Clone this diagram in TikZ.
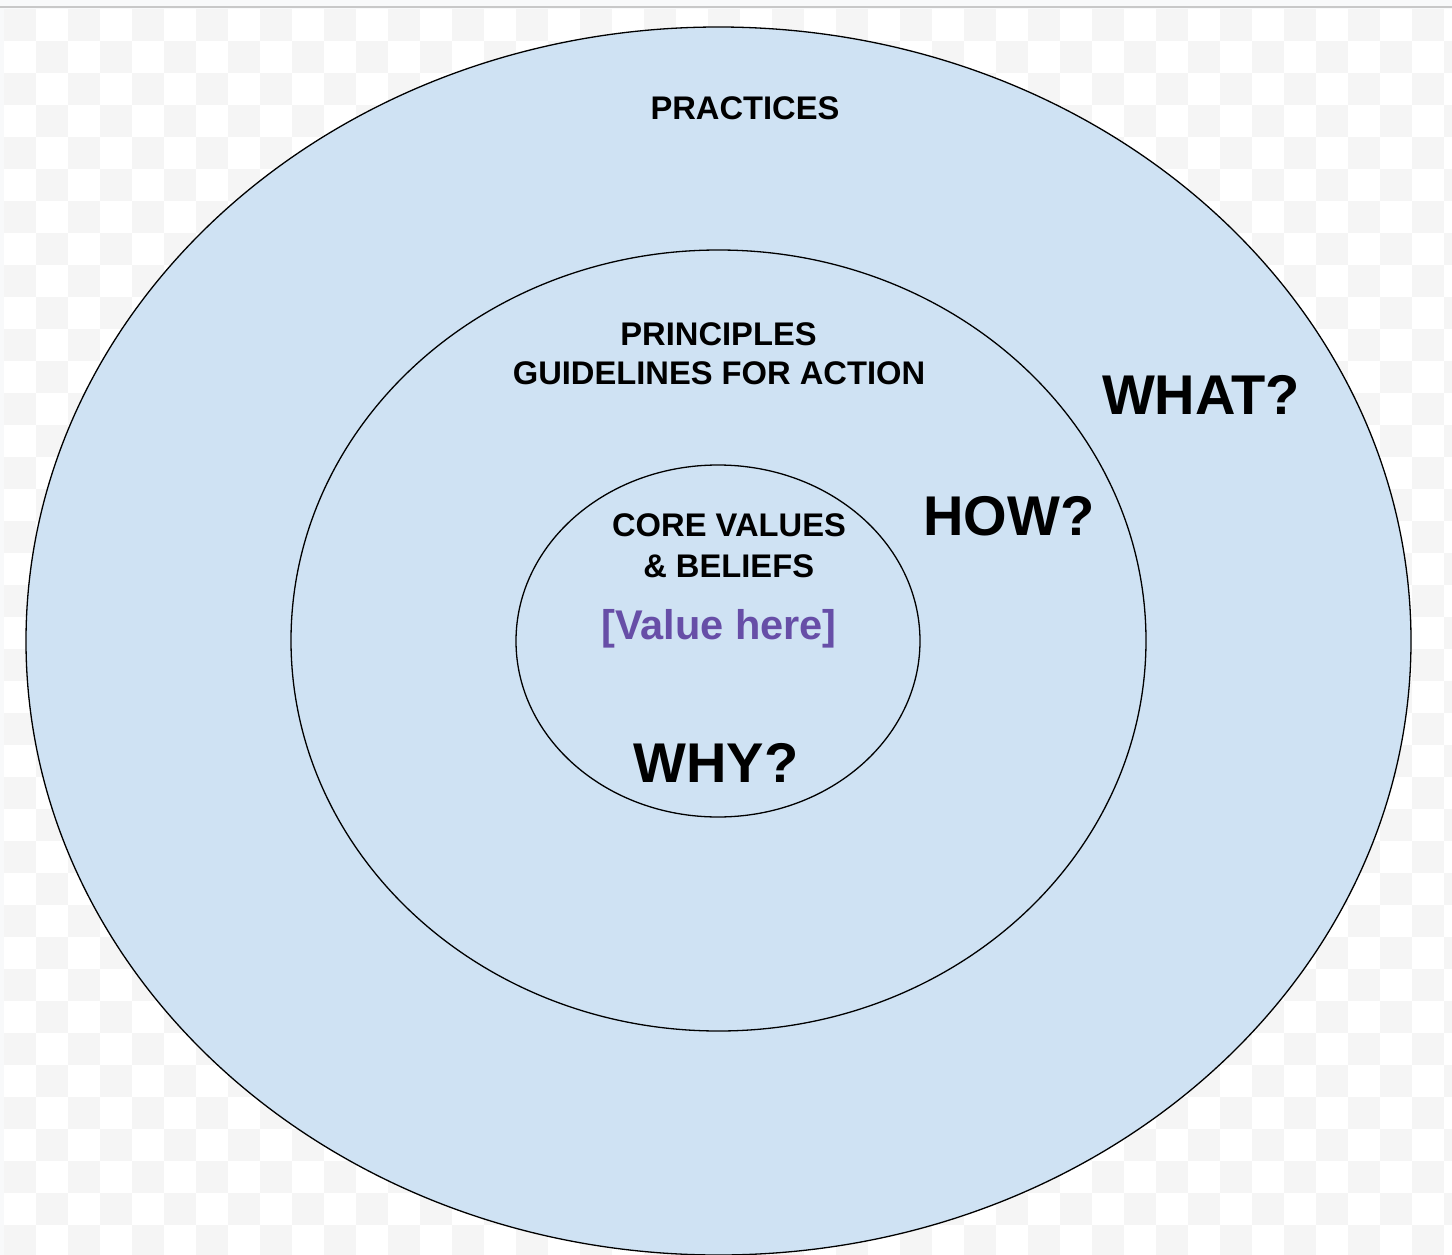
\documentclass[tikz,border=0pt]{standalone}
\usepackage{fontspec}
\setmainfont{Liberation Sans}
\definecolor{ringblue}{HTML}{CFE2F3}
\definecolor{valpurple}{HTML}{674EA7}
\definecolor{checkgray}{HTML}{F5F5F5}
\definecolor{topgray}{HTML}{F8F9FA}
\definecolor{linegray}{HTML}{C8C8C8}
\tikzset{
  ring/.style={draw=black, line width=1.3pt, fill=ringblue},
  lbl/.style={anchor=base, inner sep=0pt, font=\bfseries\fontsize{32.7}{38}\selectfont, text=black, align=center},
  big/.style={anchor=base, inner sep=0pt, font=\bfseries\fontsize{56}{62}\selectfont, text=black},
  val/.style={anchor=base, inner sep=0pt, font=\bfseries\fontsize{41.5}{48}\selectfont, text=valpurple}
}
\begin{document}
\begin{tikzpicture}[x=1pt,y=-1pt]
\useasboundingbox (0,0) rectangle (1452,1255);
% background
\fill[topgray] (0,0) rectangle (1452,1255);
\fill[white] (4,9) rectangle (1452,1255);
\begin{scope}
\clip (4,9) rectangle (1452,1255);
\foreach \i in {0,2,...,44}{
  \foreach \j in {0,2,...,38}{
    \fill[checkgray] ({4+32*\i},{9+32*\j}) rectangle ++(32,32);
  }
}
\foreach \i in {1,3,...,45}{
  \foreach \j in {1,3,...,37}{
    \fill[checkgray] ({4+32*\i},{9+32*\j}) rectangle ++(32,32);
  }
}
\end{scope}
\draw[linegray, line width=2pt] (0,7.5) -- (1452,7.5);
% rings
\draw[ring] (718.5,641) ellipse [x radius=692.5, y radius=614];
\draw[ring] (718.5,640.5) ellipse [x radius=427.5, y radius=390.5];
\draw[ring] (718,641) ellipse [x radius=202, y radius=176];
% labels
\node[lbl] (practices) at (745,119) {PRACTICES};
\node[lbl] (principles) at (718.5,345) {PRINCIPLES};
\node[lbl] (guidelines) at (719,384) {GUIDELINES FOR ACTION};
\node[lbl] (core) at (729,536) {CORE VALUES};
\node[lbl] (beliefs) at (728.7,577) {\& BELIEFS};
\node[val] (value) at (719,639.3) {[Value here]};
\node[big] (what) at (1201,414) {WHAT?};
\node[big] (how) at (1009,535.7) {HOW?};
\node[big] (why) at (716,782.7) {WHY?};
\end{tikzpicture}
\end{document}
